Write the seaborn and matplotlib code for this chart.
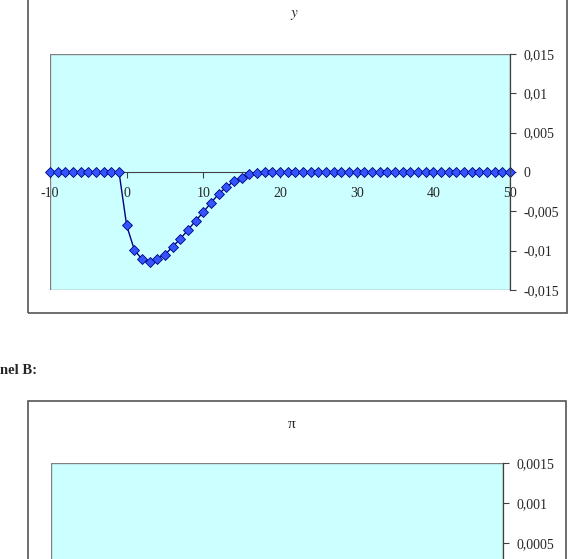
import matplotlib
matplotlib.use("Agg")
import matplotlib.pyplot as plt
import seaborn as sns
import pandas as pd
from matplotlib.patches import Rectangle

# ---------------- data ----------------
periods = list(range(-10, 51))
y_values = ([0.0] * 10 +
            [-0.0068, -0.0099, -0.0111, -0.0114, -0.0110, -0.0105, -0.0095,
             -0.0085, -0.00735, -0.0062, -0.0051, -0.0039, -0.0028, -0.0019,
             -0.0012, -0.0007, -0.0003, -0.0001, -0.00003] +
            [0.0] * 32)
y_ticks = [-0.015, -0.01, -0.005, 0, 0.005, 0.01, 0.015]
y_tick_labels = ["-0,015", "-0,01", "-0,005", "0", "0,005", "0,01", "0,015"]
x_ticks = [-10, 0, 10, 20, 30, 40, 50]
x_tick_labels = ["-10", "0", "10", "20", "30", "40", "50"]
pi_ticks = [0.0005, 0.001, 0.0015]
pi_tick_labels = ["0,0005", "0,001", "0,0015"]

df = pd.DataFrame({"t": periods, "y": y_values})

# ---------------- style ----------------
sns.set_style("white")
plt.rcParams["font.family"] = ["Liberation Serif", "DejaVu Serif"]
plt.rcParams["mathtext.fontset"] = "stix"

W, H = 571, 559
fig = plt.figure(figsize=(W / 100, H / 100), dpi=100)

def fx(px):
    return px / W

def fy(py):
    return 1 - py / H

BG = "#CCFFFF"
BORDER = "#808080"
AXIS = "#404040"

# outer chart boxes
fig.patches.append(Rectangle((fx(28), fy(313)), fx(567) - fx(28), 1.2,
                             transform=fig.transFigure, fill=False,
                             edgecolor="#555555", linewidth=1.2))
fig.patches.append(Rectangle((fx(28), -0.5), fx(566) - fx(28), fy(401) + 0.5,
                             transform=fig.transFigure, fill=False,
                             edgecolor="#555555", linewidth=1.2))

# ---------------- top panel (y) ----------------
ax = fig.add_axes([fx(50), fy(290), fx(510) - fx(50), fy(54) - fy(290)])
ax.set_facecolor(BG)
sns.lineplot(data=df, x="t", y="y", ax=ax, color="#000080", linewidth=1.0,
             marker="D", markersize=5.5, markerfacecolor="#3355FF",
             markeredgecolor="#000080", markeredgewidth=0.6, clip_on=False)
ax.set_xlim(-10, 50)
ax.set_ylim(-0.015, 0.015)
for s in ["top", "left"]:
    ax.spines[s].set_visible(False)
ax.spines["bottom"].set_position(("data", 0))
ax.spines["bottom"].set_color(AXIS)
ax.spines["bottom"].set_linewidth(0.8)
ax.spines["bottom"].set_zorder(1)
ax.spines["right"].set_color(AXIS)
ax.spines["right"].set_linewidth(0.9)
ax.add_patch(Rectangle((0, 0), 1, 1, transform=ax.transAxes, fill=False,
                       edgecolor=BORDER, linewidth=1.0, zorder=0.5))
ax.yaxis.tick_right()
ax.set_yticks(y_ticks)
ax.set_yticklabels(y_tick_labels)
ax.set_xticks(x_ticks)
ax.set_xticklabels(x_tick_labels)
ax.tick_params(axis="y", direction="out", length=4, width=0.8, color=AXIS,
               labelsize=10, pad=6, right=True, left=False)
ax.tick_params(axis="x", direction="out", length=4, width=0.8, color=AXIS,
               labelsize=10, pad=7, bottom=True)
ax.set_xlabel("")
ax.set_ylabel("")
ax.grid(False)
fig.text(fx(294), fy(15), "$y$", ha="center", va="center", fontsize=11)

# ---------------- panel B label (cropped in the source page) ----------------
fig.text(fx(0.5), fy(370), "nel B:", ha="left", va="center",
         fontsize=10.5, fontweight="bold")

# ---------------- bottom panel (pi) ----------------
ax2 = fig.add_axes([fx(51), fy(463 + 240), fx(503) - fx(51), 240 / H])
ax2.set_facecolor(BG)
ax2.set_xlim(-10, 50)
ax2.set_ylim(-0.0015, 0.0015)
for s in ["top", "left", "bottom"]:
    ax2.spines[s].set_visible(False)
ax2.spines["right"].set_color(AXIS)
ax2.spines["right"].set_linewidth(0.9)
ax2.add_patch(Rectangle((0, 0), 1, 1, transform=ax2.transAxes, fill=False,
                        edgecolor=BORDER, linewidth=1.0, zorder=0.5))
ax2.yaxis.tick_right()
ax2.set_yticks(pi_ticks)
ax2.set_yticklabels(pi_tick_labels)
ax2.set_xticks([])
ax2.tick_params(axis="y", direction="out", length=4, width=0.8, color=AXIS,
                labelsize=10, pad=6, right=True, left=False)
ax2.grid(False)
fig.text(fx(292), fy(425), "π", ha="center", va="center", fontsize=11)

fig.savefig("out.png", dpi=100)
